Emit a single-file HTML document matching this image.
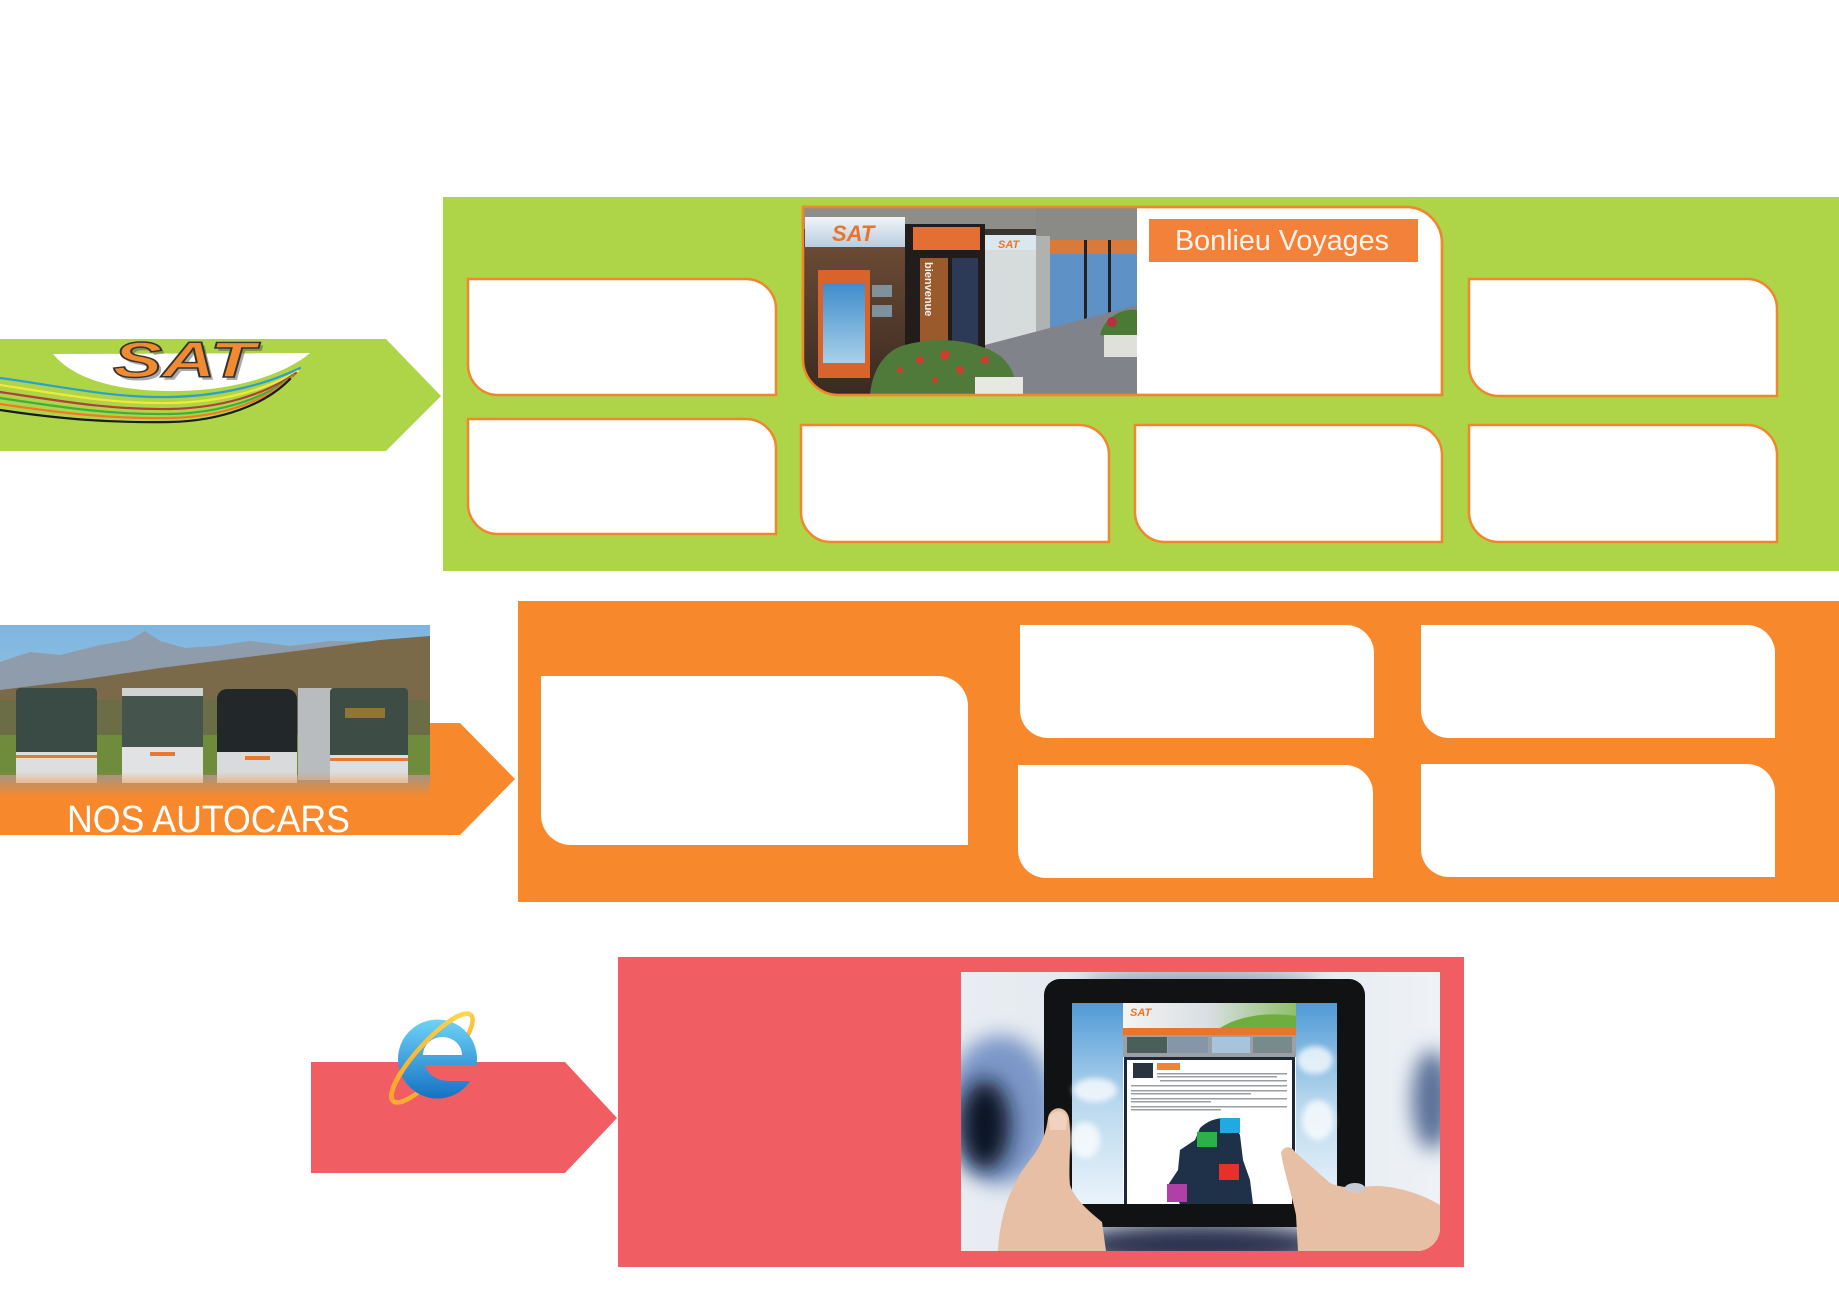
<!DOCTYPE html>
<html>
<head>
<meta charset="utf-8">
<style>
html,body{margin:0;padding:0;background:#fff;}
svg{display:block;}
</style>
</head>
<body>
<svg width="1839" height="1300" viewBox="0 0 1839 1300" xmlns="http://www.w3.org/2000/svg">
<defs>
  <filter id="blur8" x="-50%" y="-50%" width="200%" height="200%"><feGaussianBlur stdDeviation="10"/></filter>
  <filter id="blur3" x="-50%" y="-50%" width="200%" height="200%"><feGaussianBlur stdDeviation="3"/></filter>
  <filter id="blur1" x="-20%" y="-20%" width="140%" height="140%"><feGaussianBlur stdDeviation="1.2"/></filter>
  <clipPath id="shopclip"><path d="M803,207 H1137 V395 H839 A36 36 0 0 1 803,359 Z"/></clipPath>
  <clipPath id="busclip"><rect x="0" y="625" width="430" height="172"/></clipPath>
  <clipPath id="tabclip"><path d="M961,972 H1440 V1228 A23 23 0 0 1 1417,1251 H961 Z"/></clipPath>
  <linearGradient id="sky" x1="0" y1="0" x2="0" y2="1">
    <stop offset="0" stop-color="#7db5e0"/><stop offset="1" stop-color="#b6d0de"/>
  </linearGradient>
  <linearGradient id="busfade" x1="0" y1="0" x2="0" y2="1">
    <stop offset="0" stop-color="#f7892c" stop-opacity="0"/><stop offset="1" stop-color="#f7892c" stop-opacity="1"/>
  </linearGradient>
  <linearGradient id="eblue" x1="0" y1="0" x2="0" y2="1">
    <stop offset="0" stop-color="#6fd3f6"/><stop offset="1" stop-color="#1572c4"/>
  </linearGradient>
  <linearGradient id="ering" x1="0" y1="1" x2="1" y2="0">
    <stop offset="0" stop-color="#f6a52a"/><stop offset="1" stop-color="#ffd84a"/>
  </linearGradient>
  <linearGradient id="satsign" x1="0" y1="0" x2="0" y2="1">
    <stop offset="0" stop-color="#f0f4f8"/><stop offset="1" stop-color="#b8cde0"/>
  </linearGradient>
  <linearGradient id="interior" x1="0" y1="0" x2="0" y2="1">
    <stop offset="0" stop-color="#6a4a34"/><stop offset="1" stop-color="#3a2a22"/>
  </linearGradient>
  <linearGradient id="poster" x1="0" y1="0" x2="0" y2="1">
    <stop offset="0" stop-color="#3f8ccc"/><stop offset="1" stop-color="#a8d0e8"/>
  </linearGradient>
  <linearGradient id="tabbg" x1="0" y1="0" x2="1" y2="0">
    <stop offset="0" stop-color="#e9edf2"/><stop offset="0.5" stop-color="#dfe6ee"/><stop offset="1" stop-color="#eef2f6"/>
  </linearGradient>
  <linearGradient id="screensky" x1="0" y1="0" x2="0" y2="1">
    <stop offset="0" stop-color="#4f9ad6"/><stop offset="0.5" stop-color="#b9d8ee"/><stop offset="1" stop-color="#eaf3fa"/>
  </linearGradient>
  <linearGradient id="hdr" x1="0" y1="0" x2="1" y2="0">
    <stop offset="0" stop-color="#f4f4f2"/><stop offset="0.5" stop-color="#d8dee2"/><stop offset="1" stop-color="#8fbf6a"/>
  </linearGradient>
</defs>

<!-- ================= GREEN SECTION ================= -->
<rect x="443" y="197" width="1396" height="374" fill="#aed448"/>
<polygon points="0,339 386,339 441,396 386,451 0,451" fill="#aed448"/>

<!-- SAT logo -->
<path d="M53,354 L310,353 C288,372 240,390 180,391 C130,392 78,384 53,354 Z" fill="#ffffff"/>
<g fill="none" stroke-width="2.2" stroke-linecap="round">
  <path d="M0,378 C60,386 110,398 170,397 C220,396 265,385 300,368" stroke="#2a9fd0"/>
  <path d="M0,385 C60,394 110,404 170,403 C222,402 266,390 298,371" stroke="#f2e83a"/>
  <path d="M0,392 C60,401 110,410 170,409 C222,408 266,394 296,373" stroke="#b04040"/>
  <path d="M0,398 C60,407 110,415 170,414 C222,413 266,398 294,375" stroke="#3fae3f"/>
  <path d="M0,404 C60,413 110,419 170,418 C222,417 266,401 292,377" stroke="#f07a2a"/>
  <path d="M0,410 C60,419 110,423 170,422 C222,421 266,404 290,379" stroke="#1a1a1a"/>
</g>
<text x="116" y="380" font-family="Liberation Sans, sans-serif" font-weight="bold" font-style="italic" font-size="50" textLength="142" lengthAdjust="spacingAndGlyphs" fill="#555" opacity="0.5">SAT</text>
<text x="113" y="377" font-family="Liberation Sans, sans-serif" font-weight="bold" font-style="italic" font-size="50" textLength="142" lengthAdjust="spacingAndGlyphs" fill="#f28a2f" stroke="#333" stroke-width="1.4">SAT</text>

<!-- green boxes -->
<g fill="#ffffff" stroke="#f0872c" stroke-width="2.5">
  <path d="M468,279 H746 A30 30 0 0 1 776,309 V395 H498 A30 30 0 0 1 468,365 Z"/>
  <path d="M1469,279 H1747 A30 30 0 0 1 1777,309 V396 H1499 A30 30 0 0 1 1469,366 Z"/>
  <path d="M468,419 H746 A30 30 0 0 1 776,449 V534 H498 A30 30 0 0 1 468,504 Z"/>
  <path d="M801,425 H1079 A30 30 0 0 1 1109,455 V542 H831 A30 30 0 0 1 801,512 Z"/>
  <path d="M1135,425 H1412 A30 30 0 0 1 1442,455 V542 H1165 A30 30 0 0 1 1135,512 Z"/>
  <path d="M1469,425 H1747 A30 30 0 0 1 1777,455 V542 H1499 A30 30 0 0 1 1469,512 Z"/>
  <path d="M803,207 H1406 A36 36 0 0 1 1442,243 V395 H839 A36 36 0 0 1 803,359 Z"/>
</g>

<!-- shop photo -->
<g clip-path="url(#shopclip)">
  <rect x="803" y="207" width="334" height="188" fill="#3a3430"/>
  <rect x="803" y="207" width="334" height="22" fill="#8d8e8a"/>
  <polygon points="1036,207 1137,207 1137,252 1036,238" fill="#8a8b87"/>
  <rect x="803" y="247" width="102" height="148" fill="url(#interior)"/>
  <rect x="805" y="217" width="100" height="30" fill="url(#satsign)"/>
  <text x="832" y="241" font-family="Liberation Sans, sans-serif" font-weight="bold" font-style="italic" font-size="22" fill="#e8742e">SAT</text>
  <rect x="818" y="270" width="52" height="108" fill="#d8642c"/>
  <rect x="823" y="283" width="42" height="80" fill="url(#poster)"/>
  <rect x="872" y="285" width="20" height="12" fill="#8fb4cc" opacity="0.7"/>
  <rect x="872" y="305" width="20" height="12" fill="#8fb4cc" opacity="0.7"/>
  <rect x="905" y="224" width="80" height="171" fill="#221c1a"/>
  <rect x="913" y="227" width="67" height="23" fill="#e46f35"/>
  <rect x="920" y="258" width="28" height="118" fill="#9a5a2c"/>
  <rect x="952" y="258" width="26" height="100" fill="#2c3a58"/>
  <text transform="translate(925,262) rotate(90)" font-family="Liberation Sans, sans-serif" font-weight="bold" font-size="11" fill="#f0f0f0">bienvenue</text>
  <rect x="985" y="235" width="51" height="110" fill="#d6dbdb"/>
  <rect x="985" y="235" width="51" height="15" fill="#dbe7ef"/>
  <text x="998" y="248" font-family="Liberation Sans, sans-serif" font-weight="bold" font-style="italic" font-size="11" fill="#e8742e">SAT</text>
  <rect x="1036" y="236" width="14" height="100" fill="#b0b2b0"/>
  <rect x="1050" y="240" width="87" height="95" fill="#5e92c6"/>
  <rect x="1050" y="240" width="87" height="14" fill="#d97a3a"/>
  <rect x="1084" y="240" width="3" height="95" fill="#222"/>
  <rect x="1108" y="240" width="3" height="95" fill="#222"/>
  <polygon points="985,345 1137,305 1137,395 985,395" fill="#80848a"/>
  <path d="M870,395 C872,370 885,350 905,345 C930,338 960,338 985,348 C1005,355 1015,368 1018,395 Z" fill="#4f7a3a"/>
  <g fill="#c8402e">
    <circle cx="920" cy="360" r="4"/><circle cx="945" cy="355" r="5"/><circle cx="960" cy="370" r="4"/><circle cx="935" cy="380" r="3"/><circle cx="985" cy="360" r="4"/><circle cx="900" cy="370" r="3"/>
  </g>
  <rect x="975" y="377" width="48" height="18" fill="#e8e8e2"/>
  <path d="M1100,335 C1105,315 1125,308 1137,310 V340 Z" fill="#4a7a34"/>
  <circle cx="1112" cy="322" r="5" fill="#b83040"/>
  <rect x="1104" y="335" width="33" height="22" fill="#e0e0da"/>
</g>
<path d="M803,207 H1406 A36 36 0 0 1 1442,243 V395 H839 A36 36 0 0 1 803,359 Z" fill="none" stroke="#f0872c" stroke-width="2.5"/>

<!-- Bonlieu label -->
<rect x="1149" y="219" width="269" height="43" fill="#f4813a"/>
<text x="1175" y="250" font-family="Liberation Sans Narrow, Liberation Sans, sans-serif" font-size="29" textLength="214" lengthAdjust="spacingAndGlyphs" fill="#fff4ec">Bonlieu Voyages</text>

<!-- ================= ORANGE SECTION ================= -->
<rect x="518" y="601" width="1321" height="301" fill="#f7892c"/>
<polygon points="0,723 460,723 515,779 460,835 0,835" fill="#f7892c"/>

<!-- bus photo -->
<g clip-path="url(#busclip)">
  <rect x="0" y="625" width="430" height="172" fill="url(#sky)"/>
  <polygon points="0,662 30,652 60,655 100,645 130,640 145,631 160,641 185,648 215,646 250,641 290,646 330,641 380,642 430,640 430,705 0,705" fill="#8e9cab"/>
  <polygon points="0,690 80,680 160,668 240,658 320,648 380,640 430,636 430,720 0,720" fill="#7a6a4a"/>
  <rect x="0" y="700" width="430" height="45" fill="#6b6d46"/>
  <rect x="0" y="735" width="430" height="45" fill="#6f8c3c"/>
  <rect x="0" y="775" width="430" height="22" fill="#9a968c"/>
  <!-- buses -->
  <g>
    <rect x="16" y="688" width="81" height="95" rx="4" fill="#3a4a44"/>
    <rect x="16" y="752" width="81" height="31" fill="#dcdedf"/>
    <rect x="16" y="755" width="81" height="3" fill="#e8782e"/>
    <rect x="122" y="688" width="81" height="95" rx="4" fill="#46544e"/>
    <rect x="122" y="688" width="81" height="8" fill="#cfd3d4"/>
    <rect x="122" y="747" width="81" height="36" fill="#e0e2e3"/>
    <rect x="150" y="752" width="25" height="4" fill="#e8782e"/>
    <rect x="217" y="689" width="80" height="94" rx="10" fill="#22282a"/>
    <rect x="217" y="752" width="80" height="31" fill="#d8dadb"/>
    <rect x="245" y="756" width="25" height="4" fill="#e8782e"/>
    <rect x="298" y="688" width="34" height="92" fill="#b8bcbe"/>
    <rect x="330" y="688" width="78" height="95" rx="4" fill="#3e4c46"/>
    <rect x="330" y="755" width="78" height="28" fill="#dcdedf"/>
    <rect x="330" y="758" width="78" height="3" fill="#e8782e"/>
    <rect x="345" y="708" width="40" height="10" fill="#c8902e" opacity="0.6"/>
  </g>
  <rect x="0" y="772" width="430" height="25" fill="url(#busfade)"/>
</g>
<text x="67" y="832" font-family="Liberation Sans, sans-serif" font-size="38" textLength="283" lengthAdjust="spacingAndGlyphs" fill="#ffffff">NOS AUTOCARS</text>

<!-- orange boxes -->
<g fill="#ffffff">
  <path d="M541,676 H938 A30 30 0 0 1 968,706 V845 H571 A30 30 0 0 1 541,815 Z"/>
  <path d="M1020,625 H1346 A28 28 0 0 1 1374,653 V738 H1048 A28 28 0 0 1 1020,710 Z"/>
  <path d="M1421,625 H1747 A28 28 0 0 1 1775,653 V738 H1449 A28 28 0 0 1 1421,710 Z"/>
  <path d="M1018,765 H1345 A28 28 0 0 1 1373,793 V878 H1046 A28 28 0 0 1 1018,850 Z"/>
  <path d="M1421,764 H1747 A28 28 0 0 1 1775,792 V877 H1449 A28 28 0 0 1 1421,849 Z"/>
</g>

<!-- ================= PINK SECTION ================= -->
<polygon points="311,1062 565,1062 617,1118 565,1173 311,1173" fill="#f05e63"/>
<rect x="618" y="957" width="846" height="310" fill="#f05e63"/>

<!-- IE icon -->
<ellipse cx="432" cy="1058" rx="58" ry="16" transform="rotate(-48 432 1058)" fill="none" stroke="url(#ering)" stroke-width="4.5"/>
<circle cx="437.5" cy="1059" r="39.5" fill="url(#eblue)"/>
<path d="M423,1055 A19.5 18 0 0 1 462,1055 Z" fill="#ffffff"/>
<path d="M425,1065 H478 V1081 H449 C436,1081 428,1074 425,1065 Z" fill="#f05e63"/>
<path d="M393.2,1101.1 A58 16 -48 0 1 470.8,1014.9" fill="none" stroke="url(#ering)" stroke-width="4.5"/>

<!-- tablet photo -->
<g clip-path="url(#tabclip)">
  <rect x="961" y="972" width="479" height="279" fill="url(#tabbg)"/>
  <ellipse cx="1000" cy="1110" rx="55" ry="75" fill="#7b97c8" filter="url(#blur8)"/>
  <ellipse cx="985" cy="1125" rx="25" ry="45" fill="#101828" filter="url(#blur8)"/>
  <ellipse cx="1432" cy="1100" rx="20" ry="50" fill="#5a6f98" filter="url(#blur8)"/>
  <ellipse cx="1200" cy="1245" rx="130" ry="22" fill="#2a3250" filter="url(#blur8)"/>
  <ellipse cx="1200" cy="985" rx="120" ry="15" fill="#9aa4b4" filter="url(#blur8)"/>
  <!-- tablet -->
  <rect x="1044" y="979" width="321" height="248" rx="16" fill="#111214"/>
  <rect x="1072" y="1003" width="265" height="201" fill="url(#screensky)"/>
  <g fill="#ffffff" opacity="0.75" filter="url(#blur3)">
    <ellipse cx="1095" cy="1090" rx="22" ry="12"/><ellipse cx="1085" cy="1140" rx="15" ry="18"/>
    <ellipse cx="1315" cy="1060" rx="18" ry="14"/><ellipse cx="1318" cy="1120" rx="16" ry="20"/>
  </g>
  <rect x="1123" y="1003" width="173" height="201" fill="#ffffff"/>
  <rect x="1123" y="1003" width="173" height="25" fill="url(#hdr)"/>
  <path d="M1220,1028 C1240,1015 1270,1012 1296,1016 V1028 Z" fill="#6fae3e"/>
  <text x="1130" y="1016" font-family="Liberation Sans, sans-serif" font-weight="bold" font-style="italic" font-size="11" fill="#e8742e">SAT</text>
  <rect x="1123" y="1028" width="173" height="7" fill="#e8742e"/>
  <rect x="1123" y="1035" width="173" height="22" fill="#9aa0a6"/>
  <rect x="1127" y="1037" width="40" height="16" fill="#4a5e5a"/>
  <rect x="1168" y="1037" width="40" height="16" fill="#8696a8"/>
  <rect x="1212" y="1037" width="38" height="16" fill="#a8c4dc"/>
  <rect x="1253" y="1037" width="39" height="16" fill="#7a8a8c"/>
  <rect x="1124" y="1057" width="171" height="147" fill="#1d2838"/>
  <rect x="1127" y="1060" width="165" height="144" fill="#ffffff"/>
  <rect x="1133" y="1063" width="20" height="15" fill="#2a3440"/>
  <rect x="1157" y="1063" width="23" height="7" fill="#f0823a"/>
  <g fill="#9a9ea4">
    <rect x="1157" y="1073" width="130" height="1.5"/><rect x="1157" y="1076" width="120" height="1.5"/>
    <rect x="1160" y="1080" width="127" height="1.5"/><rect x="1131" y="1085" width="156" height="1.5"/>
    <rect x="1131" y="1090" width="156" height="1.5"/><rect x="1131" y="1093" width="120" height="1.5"/>
    <rect x="1131" y="1098" width="156" height="1.5"/><rect x="1131" y="1101" width="80" height="1.5"/>
    <rect x="1131" y="1106" width="156" height="1.5"/><rect x="1131" y="1109" width="90" height="1.5"/>
  </g>
  <path d="M1200,1128 C1210,1118 1225,1116 1232,1120 L1240,1135 L1243,1160 L1250,1180 L1253,1204 H1180 L1175,1195 L1168,1185 L1178,1170 L1180,1150 L1195,1140 Z" fill="#1e3148"/>
  <rect x="1220" y="1118" width="20" height="15" fill="#22a8e2"/>
  <rect x="1197" y="1132" width="20" height="15" fill="#2bb04a"/>
  <rect x="1219" y="1164" width="20" height="16" fill="#e8302a"/>
  <rect x="1167" y="1184" width="20" height="18" fill="#b040a8"/>
  <!-- hands -->
  <path d="M998,1251 C1000,1215 1010,1185 1030,1160 C1040,1148 1046,1135 1048,1118 C1050,1106 1066,1104 1069,1118 C1072,1140 1068,1165 1070,1185 C1075,1200 1090,1212 1102,1222 L1106,1251 Z" fill="#e6bfa4"/>
  <path d="M1049,1118 C1052,1110 1064,1108 1067,1118 L1066,1130 L1050,1130 Z" fill="#f0d2bf"/>
  <path d="M1281,1153 C1283,1146 1291,1145 1295,1152 L1330,1183 C1345,1190 1360,1186 1380,1186 C1405,1188 1425,1196 1440,1205 V1251 H1298 L1296,1215 C1292,1195 1284,1172 1281,1153 Z" fill="#e6bfa4"/>
  <ellipse cx="1355" cy="1188" rx="10" ry="5" fill="#c8ccd2"/>
</g>

</svg>
</body>
</html>
